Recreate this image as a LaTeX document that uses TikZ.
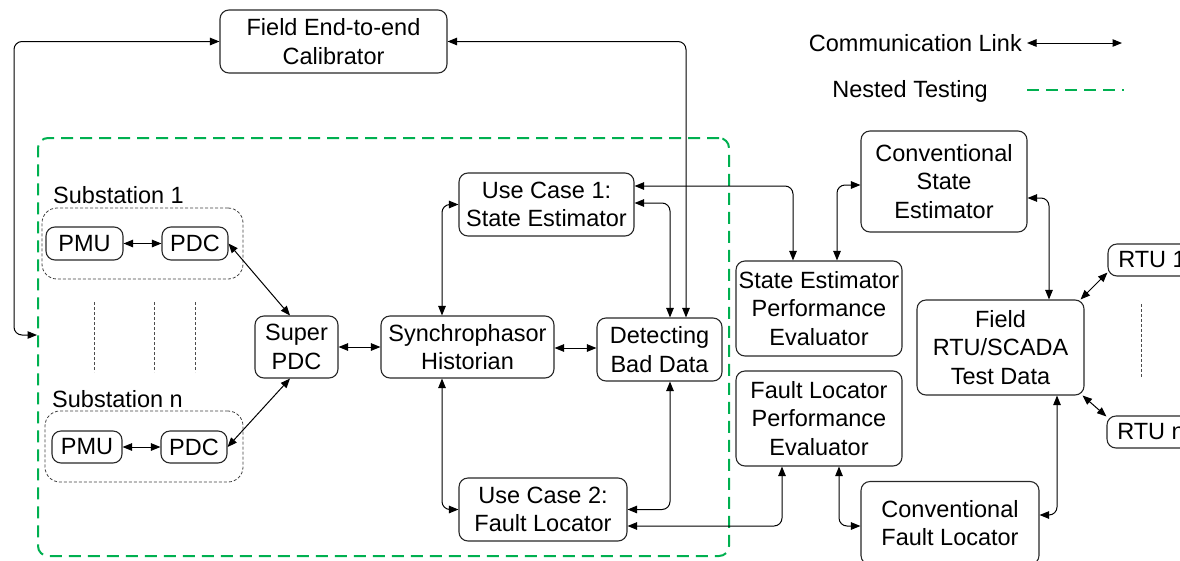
\documentclass[tikz,border=0pt]{standalone}
\usepackage{fontspec}
\setmainfont{Liberation Sans}
\usetikzlibrary{arrows.meta}
\definecolor{nestgreen}{RGB}{0,176,80}
\definecolor{boxline}{RGB}{40,40,40}
\tikzset{
  txt/.style={font=\fontsize{23.5}{28.5}\selectfont, align=center, inner sep=0pt},
  box/.style={txt, draw=boxline, line width=1.1pt, rounded corners=9pt},
  group/.style={draw=black!75, line width=0.8pt, dash pattern=on 3pt off 2pt, rounded corners=15pt},
  dots/.style={draw=black!70, line width=0.8pt, dash pattern=on 3pt off 2pt},
  nested/.style={draw=nestgreen, line width=2pt, dash pattern=on 12pt off 7pt, rounded corners=10pt},
  link/.style={draw=black, line width=1pt, rounded corners=8pt,
    {Triangle[length=9.5pt,width=7.5pt]}-{Triangle[length=9.5pt,width=7.5pt]}},
}
\begin{document}
\begin{tikzpicture}[x=1pt,y=-1pt]
\useasboundingbox (0,0) rectangle (1180,560);
\clip (0,0) rectangle (1180,560);

% nested testing boundary
\node[nested, minimum width=691pt, minimum height=418pt] (nest) at (383.5,347) {};

% substation groups
\node[group, minimum width=201pt, minimum height=71pt] (sub1) at (142.5,243.5) {};
\node[group, minimum width=198pt, minimum height=71pt] (subn) at (144,446.5) {};
\node[txt, anchor=west] (lab1) at (53,195) {Substation 1};
\node[txt, anchor=west] (labn) at (52,399) {Substation n};
\foreach \x/\n in {94/a,154/b,195/c}{
  \coordinate (d\n1) at (\x,302); \coordinate (d\n2) at (\x,372);
  \draw[dots] (d\n1) -- (d\n2);
}

% boxes
\node[box, minimum width=227pt, minimum height=63pt] (cal) at (333.5,41.5) {Field End-to-end\\Calibrator};
\node[box, minimum width=77pt, minimum height=33pt] (pmu1) at (84.5,243.5) {PMU};
\node[box, minimum width=66pt, minimum height=33pt] (pdc1) at (195,243.5) {PDC};
\node[box, minimum width=70pt, minimum height=32pt] (pmun) at (87,447) {PMU};
\node[box, minimum width=66pt, minimum height=32pt] (pdcn) at (194,447) {PDC};
\node[box, minimum width=83pt, minimum height=62pt] (super) at (296.5,347) {Super\\PDC};
\node[box, minimum width=173pt, minimum height=62pt] (hist) at (467.5,347) {Synchrophasor\\Historian};
\node[box, minimum width=125pt, minimum height=63pt] (bad) at (659.5,349.5) {Detecting\\Bad Data};
\node[box, minimum width=175pt, minimum height=63pt] (uc1) at (546.5,204.5) {Use Case 1:\\State Estimator};
\node[box, minimum width=168pt, minimum height=63pt] (uc2) at (543,509.5) {Use Case 2:\\Fault Locator};
\node[box, minimum width=166pt, minimum height=95pt] (sepe) at (819,308.5) {State Estimator\\Performance\\Evaluator};
\node[box, minimum width=166pt, minimum height=95pt] (flpe) at (819,418.5) {Fault Locator\\Performance\\Evaluator};
\node[box, minimum width=166pt, minimum height=101pt] (cse) at (944,181.5) {Conventional\\State\\Estimator};
\node[box, minimum width=167pt, minimum height=95pt] (field) at (1000.5,347.5) {Field\\RTU/SCADA\\Test Data};
\node[box, minimum width=178pt, minimum height=83pt] (cfl) at (950,523) {Conventional\\Fault Locator};
\node[box, minimum width=88pt, minimum height=32pt] (rtu1) at (1152,260) {RTU 1};
\node[box, minimum width=88pt, minimum height=32pt] (rtun) at (1151,432) {RTU n};
\coordinate (rd1) at (1141,304); \coordinate (rd2) at (1141,377);
\draw[dots] (rd1) -- (rd2);

% communication links
\draw[link] (cal.west) -| (14,335) -- ([yshift=12pt]nest.west);
\draw[link] (cal.east) -| ([xshift=26.5pt]bad.north);
\draw[link] (pmu1) -- (pdc1);
\draw[link] (pmun) -- (pdcn);
\draw[link] (pdc1.east) -- ([xshift=-6.5pt]super.north);
\draw[link] (pdcn.east) -- ([xshift=-6.5pt]super.south);
\draw[link] (super.east) -- (super.east -| hist.west);
\draw[link] ([yshift=-1pt]hist.east) -- ([yshift=-1pt]hist.east -| bad.west);
\draw[link] (uc1.west) -| ([xshift=-25.5pt]hist.north);
\draw[link] ([xshift=-25.5pt]hist.south) |- (uc2.west);
\draw[link] ([yshift=1.5pt]uc1.east) -| ([xshift=10.5pt]bad.north);
\draw[link] ([xshift=10.5pt]bad.south) |- (uc2.east);
\draw[link] ([yshift=18.5pt]uc1.east) -| ([xshift=-26pt]sepe.north);
\draw[link] ([yshift=-16.5pt]uc2.east) -| ([xshift=-37pt]flpe.south);
\draw[link] ([xshift=18pt]sepe.north) |- ([yshift=-3.5pt]cse.west);
\draw[link] ([yshift=-16.5pt]cse.east) -| ([xshift=48.5pt]field.north);
\draw[link] ([xshift=20pt]flpe.south) |- ([yshift=-3pt]cfl.west);
\draw[link] ([yshift=8pt]cfl.east) -| ([xshift=56.5pt]field.south);
\draw[link] ([xshift=-4pt]field.north east) -- ([yshift=4pt]rtu1.south west);
\draw[link] ([xshift=-2pt]field.south east) -- ([yshift=-1pt]rtun.north west);

% legend
\node[txt, anchor=east] (legc) at (1022,43) {Communication Link};
\coordinate (lc1) at (1027,43); \coordinate (lc2) at (1122,43);
\draw[link] (lc1) -- (lc2);
\node[txt, anchor=east] (legn) at (988,91) {Nested Testing};
\coordinate (ln1) at (1027,90); \coordinate (ln2) at (1124,90);
\draw[nested] (ln1) -- (ln2);
\end{tikzpicture}
\end{document}
